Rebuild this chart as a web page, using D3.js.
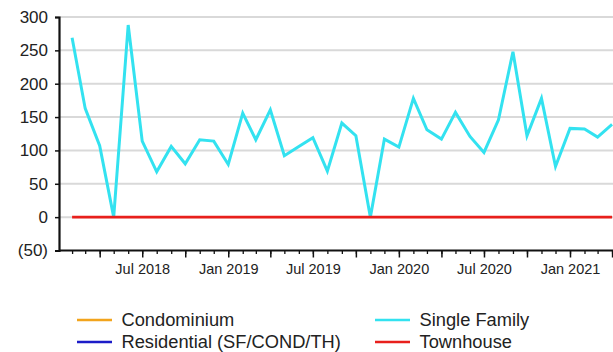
<!DOCTYPE html>
<html>
<head>
<meta charset="utf-8">
<script src="https://cdn.jsdelivr.net/npm/d3@7"></script>
<style>
  html, body { margin: 0; padding: 0; background: #fff; }
  svg { display: block; font-family: "Liberation Sans", Arial, sans-serif; }
</style>
</head>
<body>
<svg id="chart" width="613" height="352"></svg>
<script>
// Monthly sales counts, Feb 2018 – Apr 2021
const months = [
  "2018-02","2018-03","2018-04","2018-05","2018-06","2018-07","2018-08","2018-09","2018-10","2018-11","2018-12",
  "2019-01","2019-02","2019-03","2019-04","2019-05","2019-06","2019-07","2019-08","2019-09","2019-10","2019-11","2019-12",
  "2020-01","2020-02","2020-03","2020-04","2020-05","2020-06","2020-07","2020-08","2020-09","2020-10","2020-11","2020-12",
  "2021-01","2021-02","2021-03","2021-04"
];
const singleFamily = [
  269,163,107,0,288,114,68,106,80,116,114,
  79,156,116,161,92,106,119,69,141,122,0,117,
  105,178,131,117,157,121,97,146,248,122,178,76,
  133,132,120,139
];
const townhouse = months.map(() => 0);
const condominium = months.map(() => null);
const residential = months.map(() => null);
const yTicks = [-50, 0, 50, 100, 150, 200, 250, 300];

const series = [
  { name: "Condominium", values: condominium, color: "#f2a41c" },
  { name: "Residential (SF/COND/TH)", values: residential, color: "#1c1cc8" },
  { name: "Single Family", values: singleFamily, color: "#33e2f0" },
  { name: "Townhouse", values: townhouse, color: "#e8201c" }
];

const parse = d3.utcParse("%Y-%m");
const dates = months.map(parse);

const svg = d3.select("#chart");
const plotLeft = 59, plotRight = 613, plotTop = 17, plotBottom = 250.5;

// time scale calibrated so Jan 2018 and Jan 2021 land on their ticks
const x0 = d3.scaleUtc().domain([parse("2018-01"), parse("2021-01")]).range([57.6, 570]);
const x = d3.scaleUtc().domain([x0.invert(plotLeft), x0.invert(plotRight)]).range([plotLeft, plotRight]);
const y = d3.scaleLinear().domain([-50, 300]).range([plotBottom, plotTop]);

// gridlines
svg.append("g")
  .selectAll("line")
  .data(yTicks.filter(v => v > -50))
  .join("line")
  .attr("x1", plotLeft).attr("x2", plotRight)
  .attr("y1", d => y(d)).attr("y2", d => y(d))
  .attr("stroke", "#d9d9d9").attr("stroke-width", 2);

// y axis
const yAxis = svg.append("g")
  .attr("transform", `translate(${plotLeft},0)`)
  .call(d3.axisLeft(y).tickValues(yTicks).tickSize(4).tickPadding(7)
    .tickFormat(d => d < 0 ? `(${Math.abs(d)})` : d));
yAxis.select(".domain").attr("stroke", "#111").attr("stroke-width", 2.2);
yAxis.selectAll(".tick line").attr("stroke", "#111").attr("stroke-width", 1.5);
yAxis.selectAll("text").attr("font-size", 17).attr("fill", "#222")
  .attr("font-family", "Liberation Sans, Arial, sans-serif");

// x axis: monthly minor ticks, quarterly major ticks, labels on Jan/Jul
const xMinor = svg.append("g")
  .attr("transform", `translate(0,${plotBottom})`)
  .call(d3.axisBottom(x).ticks(d3.utcMonth.every(1)).tickSize(3.5).tickFormat(""));
xMinor.select(".domain").remove();
xMinor.selectAll(".tick line").attr("stroke", "#111").attr("stroke-width", 1.3);

const fmt = d3.utcFormat("%b %Y");
const xAxis = svg.append("g")
  .attr("transform", `translate(0,${plotBottom})`)
  .call(d3.axisBottom(x).ticks(d3.utcMonth.every(3)).tickSize(7).tickPadding(6)
    .tickFormat(d => (d.getUTCMonth() % 6 === 0) ? fmt(d) : ""));
xAxis.select(".domain").attr("stroke", "#111").attr("stroke-width", 2.2)
  .attr("d", `M${plotLeft},0H${plotRight}`);
xAxis.selectAll(".tick line").attr("stroke", "#111").attr("stroke-width", 1.5);
xAxis.selectAll("text").attr("font-size", 14.5).attr("fill", "#222")
  .attr("font-family", "Liberation Sans, Arial, sans-serif");

// lines
const line = d3.line()
  .defined(d => d.v != null)
  .x(d => x(d.date))
  .y(d => y(d.v));

["Condominium", "Residential (SF/COND/TH)", "Single Family", "Townhouse"].forEach(name => {
  const s = series.find(s => s.name === name);
  svg.append("path")
    .datum(dates.map((date, i) => ({ date, v: s.values[i] })))
    .attr("fill", "none")
    .attr("stroke", s.color)
    .attr("stroke-width", name === "Townhouse" ? 2.6 : 3)
    .attr("stroke-linejoin", "miter")
    .attr("d", line);
});

// legend
const legendPos = [
  { x: 77, y: 320 }, { x: 77, y: 342 },
  { x: 375, y: 320 }, { x: 375, y: 342 }
];
const legend = svg.append("g").selectAll("g")
  .data(series)
  .join("g")
  .attr("transform", (d, i) => `translate(${legendPos[i].x},${legendPos[i].y})`);
legend.append("line")
  .attr("x1", 0).attr("x2", 35).attr("y1", 0).attr("y2", 0)
  .attr("stroke", d => d.color).attr("stroke-width", 2.5);
legend.append("text")
  .attr("x", 44.5).attr("y", 0).attr("dy", "0.35em")
  .attr("font-size", 18.3).attr("fill", "#222")
  .text(d => d.name);
</script>
</body>
</html>
